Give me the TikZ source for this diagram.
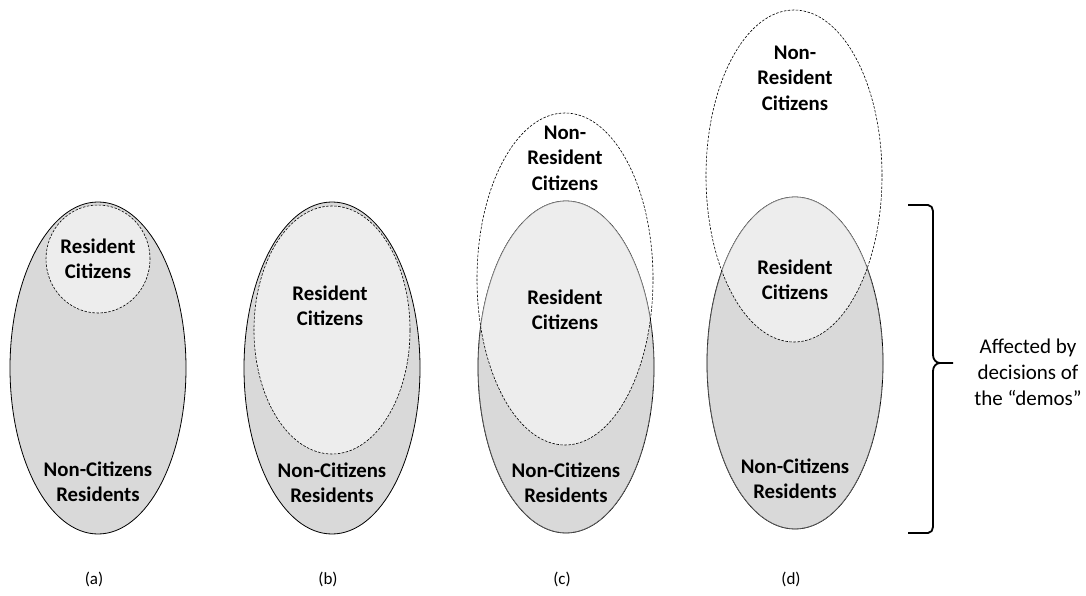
\documentclass[tikz,border=0pt]{standalone}
\usepackage{fontspec}
\setmainfont{Carlito}
\definecolor{midgray}{HTML}{D9D9D9}
\definecolor{lightgray}{HTML}{EDEDED}
\definecolor{rimgray}{HTML}{858585}
\tikzset{
  group/.style={font=\bfseries\fontsize{20.8}{25.5}\selectfont, align=center, inner sep=0pt},
  note/.style={font=\fontsize{21}{26}\selectfont, align=center, inner sep=0pt},
  caption/.style={font=\fontsize{17}{20}\selectfont, inner sep=0pt},
  residents/.style={fill=midgray, draw=black, line width=0.8pt},
  citizens/.style={draw=black, dashed, line width=0.6pt, dash pattern=on 2.5pt off 1.5pt},
}
\begin{document}
\begin{tikzpicture}[x=1pt,y=-1pt]
	\useasboundingbox (0,0) rectangle (1086,596);
	% (a) citizens all resident
	\draw[residents] (98,368) ellipse [x radius=88pt, y radius=166pt];
	\fill[lightgray] (98,259) ellipse [x radius=52pt, y radius=54pt];
	\draw[citizens] (98,259) ellipse [x radius=52pt, y radius=54pt];
	\node[group] (rcA) at (98,259) {Resident\\Citizens};
	\node[group] (ncA) at (98,482) {Non-Citizens\\Residents};
	\node[caption] (capA) at (94,579) {(a)};
	% (b) more resident citizens
	\draw[residents] (332,368) ellipse [x radius=88pt, y radius=166pt];
	\fill[lightgray] (332,330) ellipse [x radius=78pt, y radius=124pt];
	\draw[citizens] (332,330) ellipse [x radius=78pt, y radius=124pt];
	\node[group] (rcB) at (330,306) {Resident\\Citizens};
	\node[group] (ncB) at (332,483) {Non-Citizens\\Residents};
	\node[caption] (capB) at (328,579) {(b)};
	% (c) some citizens abroad
	\draw[residents] (566,367) ellipse [x radius=88pt, y radius=166pt];
	\begin{scope}
		\clip (566,367) ellipse [x radius=88pt, y radius=166pt];
		\fill[lightgray] (565,279) ellipse [x radius=88pt, y radius=166pt];
		\draw[rimgray, line width=0.8pt] (566,367) ellipse [x radius=88pt, y radius=166pt];
	\end{scope}
	\draw[citizens] (565,279) ellipse [x radius=88pt, y radius=166pt];
	\node[group] (nrC) at (565,158) {Non-\\Resident\\Citizens};
	\node[group] (rcC) at (565,310) {Resident\\Citizens};
	\node[group] (ncC) at (566,483) {Non-Citizens\\Residents};
	\node[caption] (capC) at (562,579) {(c)};
	% (d) most citizens abroad
	\draw[residents] (795,363) ellipse [x radius=88pt, y radius=166pt];
	\begin{scope}
		\clip (795,363) ellipse [x radius=88pt, y radius=166pt];
		\fill[lightgray] (794,176) ellipse [x radius=88pt, y radius=166pt];
		\draw[rimgray, line width=0.8pt] (795,363) ellipse [x radius=88pt, y radius=166pt];
	\end{scope}
	\draw[citizens] (794,176) ellipse [x radius=88pt, y radius=166pt];
	\node[group] (nrD) at (795,78) {Non-\\Resident\\Citizens};
	\node[group] (rcD) at (795,280) {Resident\\Citizens};
	\node[group] (ncD) at (795,479) {Non-Citizens\\Residents};
	\node[caption] (capD) at (791,579) {(d)};
	% brace
	\coordinate (braceTop) at (908,205);
	\coordinate (braceTip) at (953,363);
	\coordinate (braceBot) at (908,533);
	\draw[line width=1.8pt, line join=round] (braceTop) -- (928,205) to[out=0,in=90] (933,211) -- (933,355) to[out=-90,in=180] (940,363) -- (braceTip);
	\draw[line width=1.8pt, line join=round] (940,363) to[out=180,in=90] (933,371) -- (933,527) to[out=-90,in=0] (928,533) -- (braceBot);
	\node[note] (affected) at (1028,372) {Affected by\\decisions of\\the “demos”};
\end{tikzpicture}
\end{document}
